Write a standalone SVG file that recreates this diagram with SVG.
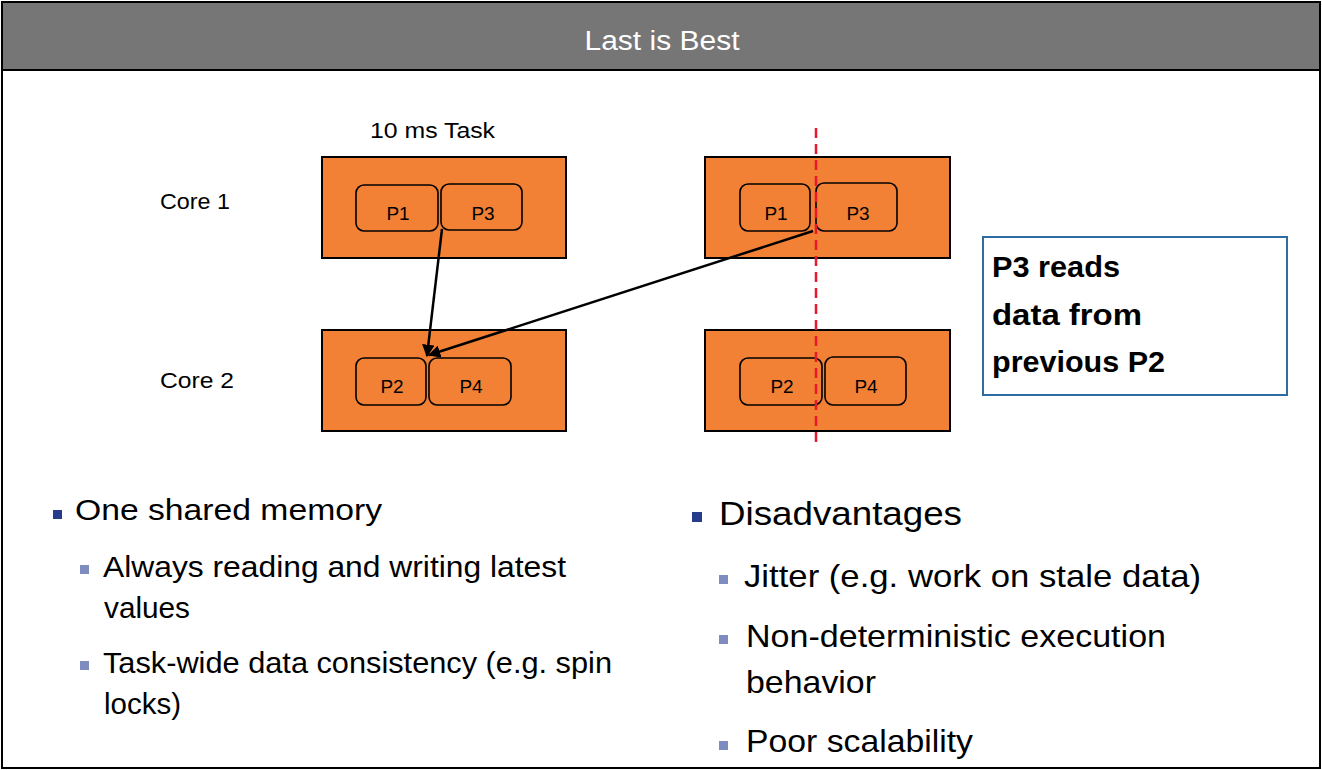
<svg xmlns="http://www.w3.org/2000/svg" width="1322" height="770" viewBox="0 0 1322 770">
<defs>
<style>
.t{font-family:"Liberation Sans","DejaVu Sans",sans-serif;fill:#000}
.core{fill:#F28135;stroke:#000;stroke-width:2}
.p{fill:none;stroke:#000;stroke-width:1.6}
.pl{font-size:19px;text-anchor:middle}
.b1{fill:#283C8C}
.b2{fill:#7F8CBF}
</style>
<marker id="ah" viewBox="0 0 10 10" refX="9" refY="5" markerWidth="5" markerHeight="5" orient="auto">
<path d="M0,0 L10,5 L0,10 z" fill="#000"/>
</marker>
</defs>
<rect x="0" y="0" width="1322" height="770" fill="#fff"/>
<g id="frame">
<rect x="2" y="2" width="1318" height="766" fill="#fff" stroke="#000" stroke-width="2"/>
<rect x="2" y="2" width="1318" height="68" fill="#767676" stroke="#000" stroke-width="2"/>
<text class="t" x="662" y="50" font-size="27" text-anchor="middle" style="fill:#fff" textLength="155" lengthAdjust="spacingAndGlyphs">Last is Best</text>
</g>
<g id="labels">
<text class="t" x="370" y="138" font-size="22" textLength="125" lengthAdjust="spacingAndGlyphs">10 ms Task</text>
<text class="t" x="160" y="209" font-size="22" textLength="70" lengthAdjust="spacingAndGlyphs">Core 1</text>
<text class="t" x="160" y="388" font-size="22" textLength="74" lengthAdjust="spacingAndGlyphs">Core 2</text>
</g>
<g id="left-core1">
<rect class="core" x="322" y="157" width="244" height="101"/>
<rect class="p" x="356" y="185" width="82" height="46" rx="8"/>
<text class="t pl" x="398" y="220">P1</text>
<rect class="p" x="441" y="184" width="81" height="46" rx="8"/>
<text class="t pl" x="483" y="220">P3</text>
</g>
<g id="left-core2">
<rect class="core" x="322" y="330" width="244" height="101"/>
<rect class="p" x="356" y="358" width="70" height="47" rx="8"/>
<text class="t pl" x="392" y="393">P2</text>
<rect class="p" x="429" y="358" width="82" height="47" rx="8"/>
<text class="t pl" x="471" y="393">P4</text>
</g>
<g id="right-core1">
<rect class="core" x="705" y="157" width="245" height="101"/>
<rect class="p" x="740" y="184" width="70" height="47" rx="8"/>
<text class="t pl" x="776" y="220">P1</text>
<rect class="p" x="816" y="183" width="81" height="48" rx="8"/>
<text class="t pl" x="858" y="220">P3</text>
</g>
<g id="right-core2">
<rect class="core" x="705" y="330" width="245" height="101"/>
<rect class="p" x="740" y="358" width="82" height="47" rx="8"/>
<text class="t pl" x="782" y="393">P2</text>
<rect class="p" x="825" y="357" width="81" height="48" rx="8"/>
<text class="t pl" x="866" y="393">P4</text>
</g>
<g id="connectors">
<line x1="816" y1="128" x2="816" y2="443" stroke="#E8192C" stroke-width="2.5" stroke-dasharray="10,6"/>
<line x1="442" y1="229" x2="427" y2="356" stroke="#000" stroke-width="2.5" marker-end="url(#ah)"/>
<line x1="813" y1="231" x2="429" y2="355" stroke="#000" stroke-width="2.5" marker-end="url(#ah)"/>
</g>
<g id="note">
<rect x="983" y="237" width="304" height="158" fill="#fff" stroke="#2E6DA4" stroke-width="2"/>
<text class="t" x="992" y="277" font-size="30" font-weight="bold" textLength="128" lengthAdjust="spacingAndGlyphs">P3 reads</text>
<text class="t" x="992" y="325" font-size="30" font-weight="bold" textLength="150" lengthAdjust="spacingAndGlyphs">data from</text>
<text class="t" x="992" y="372" font-size="30" font-weight="bold" textLength="173" lengthAdjust="spacingAndGlyphs">previous P2</text>
</g>
<g id="left-bullets">
<rect class="b1" x="53" y="510" width="9" height="9"/>
<text class="t" x="75" y="520" font-size="30" textLength="307" lengthAdjust="spacingAndGlyphs">One shared memory</text>
<rect class="b2" x="80" y="565" width="9" height="9"/>
<text class="t" x="103" y="577" font-size="29" textLength="463" lengthAdjust="spacingAndGlyphs">Always reading and writing latest</text>
<text class="t" x="104" y="618" font-size="29" textLength="86" lengthAdjust="spacingAndGlyphs">values</text>
<rect class="b2" x="80" y="661" width="9" height="9"/>
<text class="t" x="103" y="673" font-size="29" textLength="509" lengthAdjust="spacingAndGlyphs">Task-wide data consistency (e.g. spin</text>
<text class="t" x="104" y="714" font-size="29" textLength="77" lengthAdjust="spacingAndGlyphs">locks)</text>
</g>
<g id="right-bullets">
<rect class="b1" x="692" y="512" width="10" height="10"/>
<text class="t" x="719" y="525" font-size="33" textLength="243" lengthAdjust="spacingAndGlyphs">Disadvantages</text>
<rect class="b2" x="719" y="575" width="9" height="9"/>
<text class="t" x="744" y="587" font-size="32" textLength="457" lengthAdjust="spacingAndGlyphs">Jitter (e.g. work on stale data)</text>
<rect class="b2" x="719" y="635" width="9" height="9"/>
<text class="t" x="746" y="647" font-size="32" textLength="420" lengthAdjust="spacingAndGlyphs">Non-deterministic execution</text>
<text class="t" x="746" y="693" font-size="32" textLength="130" lengthAdjust="spacingAndGlyphs">behavior</text>
<rect class="b2" x="719" y="741" width="9" height="9"/>
<text class="t" x="746" y="752" font-size="32" textLength="227" lengthAdjust="spacingAndGlyphs">Poor scalability</text>
</g>
</svg>
